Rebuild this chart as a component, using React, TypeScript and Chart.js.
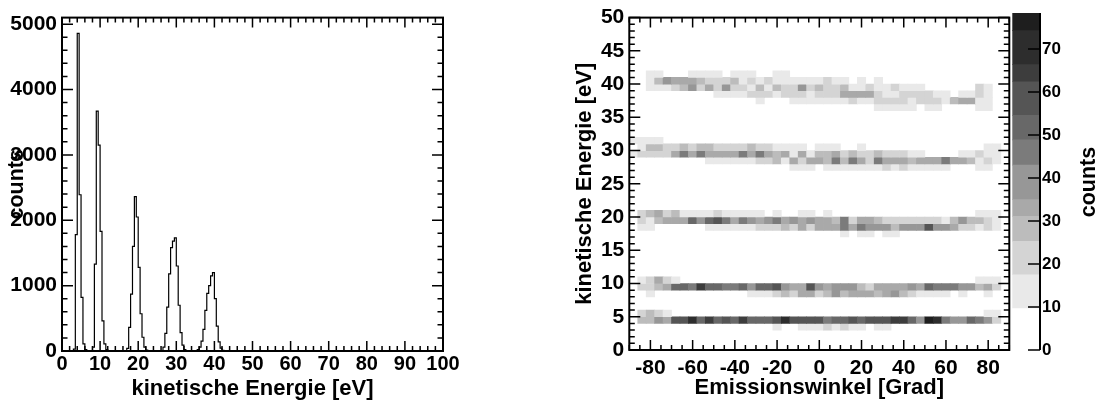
import React, { useEffect, useRef } from 'react';
import { Chart, registerables } from 'chart.js';

Chart.register(...registerables);

const FONT = "'Liberation Sans', Arial, Helvetica, sans-serif";
Chart.defaults.font.family = FONT;
Chart.defaults.color = '#000';

// ---------------- Left panel: energy histogram ----------------
const histBinWidth = 0.5; // eV per bin
const histEnergyMin = 0;
const histEnergyMax = 100;
// each peak: lower edge of its first non-empty bin, then counts per bin
const peak5Start = 3.0;
const peak5Counts = [30, 1780, 4860, 2390, 820, 110, 20];
const peak10Start = 8.0;
const peak10Counts = [60, 1330, 3670, 3150, 1830, 460, 110, 20];
const peak20Start = 17.0;
const peak20Counts = [40, 360, 870, 1600, 2360, 2050, 1280, 570, 210, 60, 15];
const peak30Start = 26.5;
const peak30Counts = [60, 270, 670, 1180, 1580, 1680, 1730, 1300, 700, 280, 90, 20];
const peak40Start = 35.5;
const peak40Counts = [20, 60, 150, 330, 620, 880, 1000, 1150, 1200, 800, 380, 140, 45, 10];

const histXTicks = [0, 10, 20, 30, 40, 50, 60, 70, 80, 90, 100];
const histYTicks = [0, 1000, 2000, 3000, 4000, 5000];
const histYMax = 5100;
const histXTitle = 'kinetische Energie [eV]';
const histYTitle = 'counts';

// ---------------- Right panel: 2D histogram (angle x energy) ----------------
const angleMin = -90;
const angleMax = 90;
const angleBinWidth = 4; // 45 columns
const energyBinWidth = 1;
const mapEnergyMax = 50;

const cellsAt41eV = [0,0,13,13,0, 0,0,13,13,13, 13,0,13,13,13, 0,0,13,13,0, 0,0,0,0,0, 0,0,0,0,0, 0,0,0,0,0, 0,0,0,0,0, 0,0,0,0,0];
const cellsAt40eV = [0,0,13,28,39, 33,33,33,28,21, 21,21,28,13,21, 13,21,13,13,13, 13,13,13,21,13, 13,0,13,0,13, 0,0,0,0,0, 0,0,0,0,0, 0,0,0,0,0];
const cellsAt39eV = [0,0,13,13,13, 21,28,39,21,33, 21,39,21,21,13, 28,13,28,21,21, 39,21,28,21,21, 28,13,13,21,13, 13,21,13,13,13, 0,0,0,0,0, 0,21,13,0,0];
const cellsAt38eV = [0,0,0,0,0, 0,0,0,0,0, 13,13,13,13,21, 21,21,13,21,21, 21,13,21,21,21, 33,33,33,33,21, 13,13,21,21,21, 21,13,13,0,13, 13,21,13,0,0];
const cellsAt37eV = [0,0,0,0,0, 0,0,0,0,0, 0,0,0,0,0, 13,0,0,0,13, 13,13,13,13,13, 13,21,13,13,21, 21,21,21,13,21, 21,21,13,28,33, 33,13,13,0,0];
const cellsAt36eV = [0,0,0,0,0, 0,0,0,0,0, 0,0,0,0,0, 0,0,0,0,0, 0,0,0,0,0, 0,0,0,0,13, 13,13,13,13,0, 13,13,0,0,0, 0,13,13,0,0];
const cellsAt31eV = [13,13,13,13,0, 0,0,0,0,0, 0,0,0,0,0, 0,0,0,0,0, 0,0,0,0,0, 0,0,0,0,0, 0,0,0,0,0, 0,0,0,0,0, 0,0,0,0,0];
const cellsAt30eV = [0,13,28,28,21, 21,28,21,28,28, 21,21,21,21,28, 21,21,13,13,13, 13,0,13,13,13, 0,0,13,0,0, 0,0,0,0,0, 0,0,0,0,0, 0,0,13,13,0];
const cellsAt29eV = [13,21,21,21,21, 33,46,33,46,33, 33,33,33,46,33, 46,33,28,33,13, 33,13,28,28,33, 21,28,21,21,28, 21,21,21,13,13, 0,0,0,0,13, 13,21,13,13,0];
const cellsAt28eV = [0,0,0,0,0, 0,0,0,0,13, 13,13,13,13,13, 21,21,28,13,33, 21,33,33,28,46, 28,46,33,21,46, 33,33,33,28,33, 33,33,46,33,33, 28,13,21,13,0];
const cellsAt27eV = [0,0,0,0,0, 0,0,0,0,0, 0,0,0,0,0, 0,0,0,0,13, 13,13,0,13,13, 13,13,13,13,13, 21,13,21,13,13, 13,13,13,0,0, 0,13,13,0,0];
const cellsAt20eV = [0,21,28,33,21, 28,13,13,13,13, 21,13,13,13,13, 13,0,13,0,0, 13,13,0,13,0, 0,0,0,0,0, 0,0,0,0,0, 0,0,0,0,0, 0,13,13,13,0];
const cellsAt19eV = [0,21,13,28,33, 33,33,52,39,52, 58,46,33,46,39, 33,39,46,33,39, 33,39,33,33,28, 46,21,33,33,28, 21,21,21,21,21, 21,21,13,28,39, 28,28,21,13,0];
const cellsAt18eV = [0,13,13,0,0, 0,0,0,0,13, 13,13,13,13,13, 21,21,21,28,21, 33,21,33,33,33, 46,33,46,39,39, 39,28,39,39,39, 58,39,39,33,21, 21,13,21,13,0];
const cellsAt17eV = [0,0,0,0,0, 0,0,0,0,0, 0,0,0,0,0, 0,0,0,0,0, 0,0,0,0,0, 13,0,13,13,0, 13,13,0,0,0, 0,0,0,0,0, 0,0,0,0,0];
const cellsAt10eV = [0,13,21,33,21, 13,0,0,0,0, 0,0,0,0,0, 0,0,0,0,0, 0,0,0,0,0, 0,0,0,0,0, 0,0,0,0,0, 0,0,0,0,0, 0,13,13,13,0];
const cellsAt9eV = [0,21,21,28,33, 52,52,46,64,52, 52,46,46,52,39, 52,52,58,39,33, 33,58,39,33,39, 39,39,28,21,33, 33,33,33,39,33, 52,46,46,46,39, 39,28,33,21,0];
const cellsAt8eV = [0,0,13,0,0, 0,0,0,0,0, 0,0,0,0,13, 13,13,21,28,21, 33,33,21,28,39, 28,33,33,33,28, 33,39,28,21,13, 13,13,13,0,13, 0,0,13,0,0];
const cellsAt5eV = [0,21,28,21,13, 0,0,0,0,0, 0,0,0,0,0, 0,0,0,0,0, 0,0,0,0,0, 0,0,0,0,0, 0,0,0,0,0, 0,0,0,0,0, 0,0,13,13,0];
const cellsAt4eV = [0,28,28,39,33, 58,58,70,52,64, 52,58,52,64,52, 52,52,58,70,58, 58,58,58,46,52, 52,58,52,58,58, 58,64,64,52,39, 76,70,46,39,39, 52,46,39,21,0];
const cellsAt3eV = [0,0,0,0,0, 0,0,0,0,0, 0,0,0,0,0, 0,0,13,0,0, 13,13,13,21,13, 21,13,13,0,13, 13,0,0,0,0, 0,0,0,0,0, 0,0,0,0,0];

const mapRows: [number, number[]][] = [
  [41, cellsAt41eV], [40, cellsAt40eV], [39, cellsAt39eV], [38, cellsAt38eV], [37, cellsAt37eV], [36, cellsAt36eV],
  [31, cellsAt31eV], [30, cellsAt30eV], [29, cellsAt29eV], [28, cellsAt28eV], [27, cellsAt27eV],
  [20, cellsAt20eV], [19, cellsAt19eV], [18, cellsAt18eV], [17, cellsAt17eV],
  [10, cellsAt10eV], [9, cellsAt9eV], [8, cellsAt8eV],
  [5, cellsAt5eV], [4, cellsAt4eV], [3, cellsAt3eV],
];

const mapXTicks = [-80, -60, -40, -20, 0, 20, 40, 60, 80];
const mapYTicks = [0, 5, 10, 15, 20, 25, 30, 35, 40, 45, 50];
const mapXTitle = 'Emissionswinkel [Grad]';
const mapYTitle = 'kinetische Energie [eV]';

// colour palette (contour levels)
const levelEdges = [0, 9.8, 17.5, 25.3, 31.1, 35.0, 43.0, 48.9, 54.6, 62.4, 66.4, 74.3, 78.4];
const levelColors = ['#ffffff', '#e9e9e9', '#d4d4d4', '#bcbcbc', '#a9a9a9', '#979797', '#7b7b7b', '#686868', '#555555', '#3d3d3d', '#2d2d2d', '#1e1e1e'];
const colorbarTicks = [0, 10, 20, 30, 40, 50, 60, 70];
const colorbarTitle = 'counts';

function colorFor(v: number): string {
  for (let k = levelColors.length - 1; k >= 0; k--) {
    if (v >= levelEdges[k]) return levelColors[k];
  }
  return levelColors[0];
}

// ---------------- layout ----------------
const W = 1095;
const H = 402;
const LEFT_W = 548;
const HEAT_X = 548;
const HEAT_W = 475;
const CBAR_X = 990;
const CBAR_W = 105;

interface TickSpec { major: number[]; minorStep: number; min: number; max: number; majorLen: number; minorLen: number }

function minorValues(s: TickSpec): number[] {
  const out: number[] = [];
  const n = Math.floor((s.max - s.min) / s.minorStep + 1e-9);
  for (let i = 0; i <= n; i++) {
    const v = s.min + i * s.minorStep;
    if (v > s.max + 1e-9) break;
    if (!s.major.some((m) => Math.abs(m - v) < 1e-9)) out.push(v);
  }
  return out;
}

function makeFramePlugin(id: string, xs: TickSpec, ys: TickSpec) {
  return {
    id,
    afterDatasetsDraw(chart: any) {
      const { ctx, chartArea: a } = chart;
      const sx = chart.scales.x;
      const sy = chart.scales.y;
      ctx.save();
      ctx.strokeStyle = '#000';
      ctx.lineWidth = 1.5;
      ctx.beginPath();
      const xt = (v: number, len: number) => {
        const px = sx.getPixelForValue(v);
        ctx.moveTo(px, a.bottom);
        ctx.lineTo(px, a.bottom - len);
        ctx.moveTo(px, a.top);
        ctx.lineTo(px, a.top + len);
      };
      const yt = (v: number, len: number) => {
        const py = sy.getPixelForValue(v);
        ctx.moveTo(a.left, py);
        ctx.lineTo(a.left + len, py);
        ctx.moveTo(a.right, py);
        ctx.lineTo(a.right - len, py);
      };
      xs.major.forEach((v) => xt(v, xs.majorLen));
      minorValues(xs).forEach((v) => xt(v, xs.minorLen));
      ys.major.forEach((v) => yt(v, ys.majorLen));
      minorValues(ys).forEach((v) => yt(v, ys.minorLen));
      ctx.stroke();
      ctx.lineWidth = 2;
      ctx.strokeRect(a.left, a.top, a.right - a.left, a.bottom - a.top);
      ctx.restore();
    },
  };
}

const plain = (v: any) => String(v);
const tickFont = { family: FONT, size: 20, weight: 'bold' as const };
const titleFont = { family: FONT, size: 22, weight: 'bold' as const };

function histConfig(): any {
  const nBins = Math.round((histEnergyMax - histEnergyMin) / histBinWidth);
  const counts: number[] = new Array(nBins).fill(0);
  const peaks: [number, number[]][] = [
    [peak5Start, peak5Counts], [peak10Start, peak10Counts], [peak20Start, peak20Counts],
    [peak30Start, peak30Counts], [peak40Start, peak40Counts],
  ];
  peaks.forEach(([start, arr]) => {
    const i0 = Math.round((start - histEnergyMin) / histBinWidth);
    arr.forEach((c, k) => { counts[i0 + k] = c; });
  });
  const pts = counts.map((c, i) => ({ x: histEnergyMin + i * histBinWidth, y: c }));
  pts.push({ x: histEnergyMax, y: 0 });

  return {
    type: 'line',
    data: {
      datasets: [{
        data: pts,
        stepped: 'before',
        borderColor: '#000',
        borderWidth: 1.2,
        pointRadius: 0,
        fill: false,
        tension: 0,
      }],
    },
    options: {
      animation: false,
      responsive: false,
      maintainAspectRatio: false,
      layout: { padding: { left: 0, top: 14, right: LEFT_W - 443, bottom: 0 } },
      plugins: { legend: { display: false }, tooltip: { enabled: false } },
      scales: {
        x: {
          type: 'linear', min: histEnergyMin, max: histEnergyMax,
          afterBuildTicks: (s: any) => { s.ticks = histXTicks.map((v) => ({ value: v })); },
          afterFit: (s: any) => { s.height = H - 351; },
          ticks: { autoSkip: false, maxRotation: 0, font: tickFont, color: '#000', padding: 1, callback: plain },
          grid: { display: false, drawTicks: false },
          border: { display: false },
          title: { display: true, text: histXTitle, font: titleFont, color: '#000', padding: { top: 0, bottom: 0 } },
        },
        y: {
          type: 'linear', min: 0, max: histYMax,
          afterBuildTicks: (s: any) => { s.ticks = histYTicks.map((v) => ({ value: v })); },
          afterFit: (s: any) => { s.width = 62; },
          ticks: { autoSkip: false, font: { ...tickFont, size: 21 }, color: '#000', padding: 5, callback: plain },
          grid: { display: false, drawTicks: false },
          border: { display: false },
          title: { display: true, text: histYTitle, font: { ...titleFont, size: 21.5 }, color: '#000', padding: { top: 4, bottom: 0 } },
        },
      },
    },
    plugins: [makeFramePlugin('histFrame',
      { major: histXTicks, minorStep: 2, min: histEnergyMin, max: histEnergyMax, majorLen: 10, minorLen: 5 },
      { major: histYTicks, minorStep: 200, min: 0, max: histYMax, majorLen: 11, minorLen: 5.5 })],
  };
}

function heatConfig(): any {
  const datasets = mapRows.map(([e, arr]) => {
    const data = arr
      .map((v, i) => ({ x: angleMin + (i + 0.5) * angleBinWidth, y: [e, e + energyBinWidth], v }))
      .filter((d) => d.v > 0);
    return {
      data,
      backgroundColor: data.map((d) => colorFor(d.v)),
      borderWidth: 0,
      grouped: false,
      categoryPercentage: 1,
      barPercentage: 1,
    };
  });
  return {
    type: 'bar',
    data: { datasets },
    options: {
      animation: false,
      responsive: false,
      maintainAspectRatio: false,
      layout: { padding: { left: 0, top: 14, right: HEAT_W - (1009.3 - HEAT_X), bottom: 0 } },
      plugins: { legend: { display: false }, tooltip: { enabled: false } },
      scales: {
        x: {
          type: 'linear', min: angleMin, max: angleMax, offset: false,
          afterBuildTicks: (s: any) => { s.ticks = mapXTicks.map((v) => ({ value: v })); },
          afterFit: (s: any) => { s.height = H - 350; },
          ticks: { autoSkip: false, maxRotation: 0, font: { ...tickFont, size: 21 }, color: '#000', padding: 6, callback: plain },
          grid: { display: false, drawTicks: false },
          border: { display: false },
          title: { display: true, text: mapXTitle, font: titleFont, color: '#000', padding: { top: 0, bottom: 1 } },
        },
        y: {
          type: 'linear', min: 0, max: mapEnergyMax,
          afterBuildTicks: (s: any) => { s.ticks = mapYTicks.map((v) => ({ value: v })); },
          afterFit: (s: any) => { s.width = 629.3 - HEAT_X; },
          ticks: { autoSkip: false, font: { ...tickFont, size: 21 }, color: '#000', padding: 5, callback: plain },
          grid: { display: false, drawTicks: false },
          border: { display: false },
          title: { display: true, text: mapYTitle, font: titleFont, color: '#000', padding: { top: 24, bottom: 0 } },
        },
      },
    },
    plugins: [makeFramePlugin('heatFrame',
      { major: mapXTicks, minorStep: 5, min: angleMin, max: angleMax, majorLen: 10, minorLen: 5 },
      { major: mapYTicks, minorStep: 1, min: 0, max: mapEnergyMax, majorLen: 11, minorLen: 5.5 })],
  };
}

const colorbarPlugin = {
  id: 'colorbarAxis',
  afterDatasetsDraw(chart: any) {
    const { ctx, chartArea: a } = chart;
    const sy = chart.scales.y;
    ctx.save();
    ctx.strokeStyle = '#000';
    ctx.lineWidth = 2;
    ctx.beginPath();
    ctx.moveTo(a.right, a.top);
    ctx.lineTo(a.right, a.bottom);
    ctx.stroke();
    ctx.lineWidth = 1.5;
    ctx.beginPath();
    colorbarTicks.forEach((v) => {
      const py = sy.getPixelForValue(v);
      ctx.moveTo(a.right, py);
      ctx.lineTo(a.right - 12, py);
    });
    ctx.stroke();
    ctx.fillStyle = '#000';
    ctx.font = `bold 21.5px ${FONT}`;
    ctx.textAlign = 'center';
    ctx.textBaseline = 'middle';
    ctx.translate(1089.2 - CBAR_X, 182);
    ctx.rotate(-Math.PI / 2);
    ctx.fillText(colorbarTitle, 0, 0);
    ctx.restore();
  },
};

function colorbarConfig(): any {
  const datasets = levelColors
    .map((c, k) => ({
      data: [[levelEdges[k], levelEdges[k + 1]]],
      backgroundColor: c,
      borderWidth: 0,
      grouped: false,
      categoryPercentage: 1,
      barPercentage: 1,
    }))
    .filter((_, k) => k > 0);
  return {
    type: 'bar',
    data: { labels: [''], datasets },
    options: {
      animation: false,
      responsive: false,
      maintainAspectRatio: false,
      layout: { padding: { left: 1012.3 - CBAR_X, top: 13, right: 0, bottom: H - 350 } },
      plugins: { legend: { display: false }, tooltip: { enabled: false } },
      scales: {
        x: { display: false },
        y: {
          position: 'right', type: 'linear', min: 0, max: levelEdges[levelEdges.length - 1],
          afterBuildTicks: (s: any) => { s.ticks = colorbarTicks.map((v) => ({ value: v })); },
          afterFit: (s: any) => { s.width = CBAR_W - (1040 - CBAR_X); },
          ticks: { autoSkip: false, font: { family: FONT, size: 17, weight: 'bold' }, color: '#000', padding: 2, callback: plain },
          grid: { display: false, drawTicks: false },
          border: { display: false },
        },
      },
    },
    plugins: [colorbarPlugin],
  };
}

function ChartCanvas(props: { left: number; width: number; make: () => any }) {
  const ref = useRef<HTMLCanvasElement>(null);
  useEffect(() => {
    const chart = new Chart(ref.current as HTMLCanvasElement, props.make());
    return () => chart.destroy();
  }, []);
  return (
    <canvas
      ref={ref}
      width={props.width}
      height={H}
      style={{ position: 'absolute', left: props.left, top: 0, width: props.width, height: H, display: 'block' }}
    />
  );
}

export default function App() {
  return (
    <div style={{ position: 'absolute', left: 0, top: 0, width: W, height: H, overflow: 'hidden', background: '#fff' }}>
      <ChartCanvas left={0} width={LEFT_W} make={histConfig} />
      <ChartCanvas left={HEAT_X} width={HEAT_W} make={heatConfig} />
      <ChartCanvas left={CBAR_X} width={CBAR_W} make={colorbarConfig} />
    </div>
  );
}
